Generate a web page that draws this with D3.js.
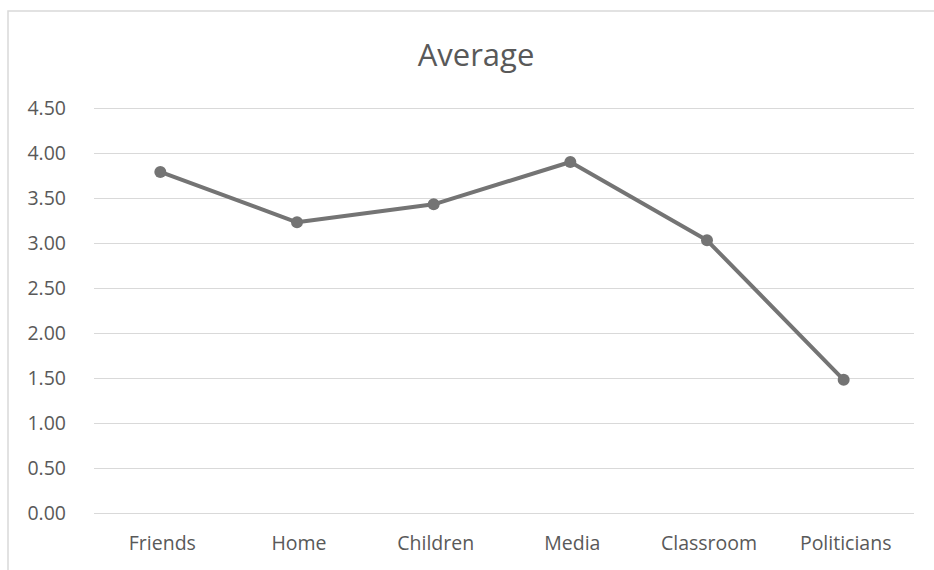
<!DOCTYPE html>
<html><head><meta charset="utf-8">
<script src="https://cdn.jsdelivr.net/npm/d3@7"></script>
<style>body{margin:0;background:#fff;} svg{display:block;}</style>
</head><body>
<script>
const categories = ["Friends","Home","Children","Media","Classroom","Politicians"];
const values = [3.79, 3.23, 3.43, 3.90, 3.03, 1.48];
const yTicks = [0,0.5,1,1.5,2,2.5,3,3.5,4,4.5];
const title = "Average";

const W=934,H=570;
const svg=d3.select("body").append("svg").attr("width",W).attr("height",H);
svg.append("rect").attr("x",8).attr("y",11).attr("width",W-8+2).attr("height",H-11+2)
  .attr("fill","#fff").attr("stroke","#d9d9d9").attr("stroke-width",1.5);
const m={l:94,r:914,t:108,b:513};
const x=d3.scaleBand().domain(categories).range([m.l,m.r]);
const y=d3.scaleLinear().domain([0,4.5]).range([m.b,m.t]);
const font="'Open Sans', sans-serif";
svg.append("text").attr("x",476).attr("y",66).attr("text-anchor","middle")
  .attr("font-family",font).attr("font-size",31).attr("fill","#595959").text(title);
const ya=svg.append("g").attr("transform",`translate(${m.l},0)`)
  .call(d3.axisLeft(y).tickValues(yTicks).tickFormat(d3.format(".2f")).tickSize(-(m.r-m.l)).tickPadding(28));
ya.select(".domain").remove();
ya.selectAll("line").attr("stroke","#d9d9d9").attr("stroke-width",1.2);
ya.selectAll("text").attr("font-family",font).attr("font-size",19.5).attr("fill","#595959");
const xa=svg.append("g").attr("transform",`translate(0,${m.b})`)
  .call(d3.axisBottom(x).tickSize(0).tickPadding(23));
xa.select(".domain").remove();
xa.selectAll("text").attr("font-family",font).attr("font-size",19.5).attr("fill","#595959");
const pts=categories.map((c,i)=>[x(c)+x.bandwidth()/2-2,y(values[i])]);
svg.append("path").attr("d",d3.line()(pts)).attr("fill","none").attr("stroke","#747474").attr("stroke-width",4).attr("stroke-linejoin","round");
svg.selectAll("circle.p").data(pts).enter().append("circle").attr("class","p")
  .attr("cx",d=>d[0]).attr("cy",d=>d[1]).attr("r",6).attr("fill","#747474");
</script>
</body></html>
